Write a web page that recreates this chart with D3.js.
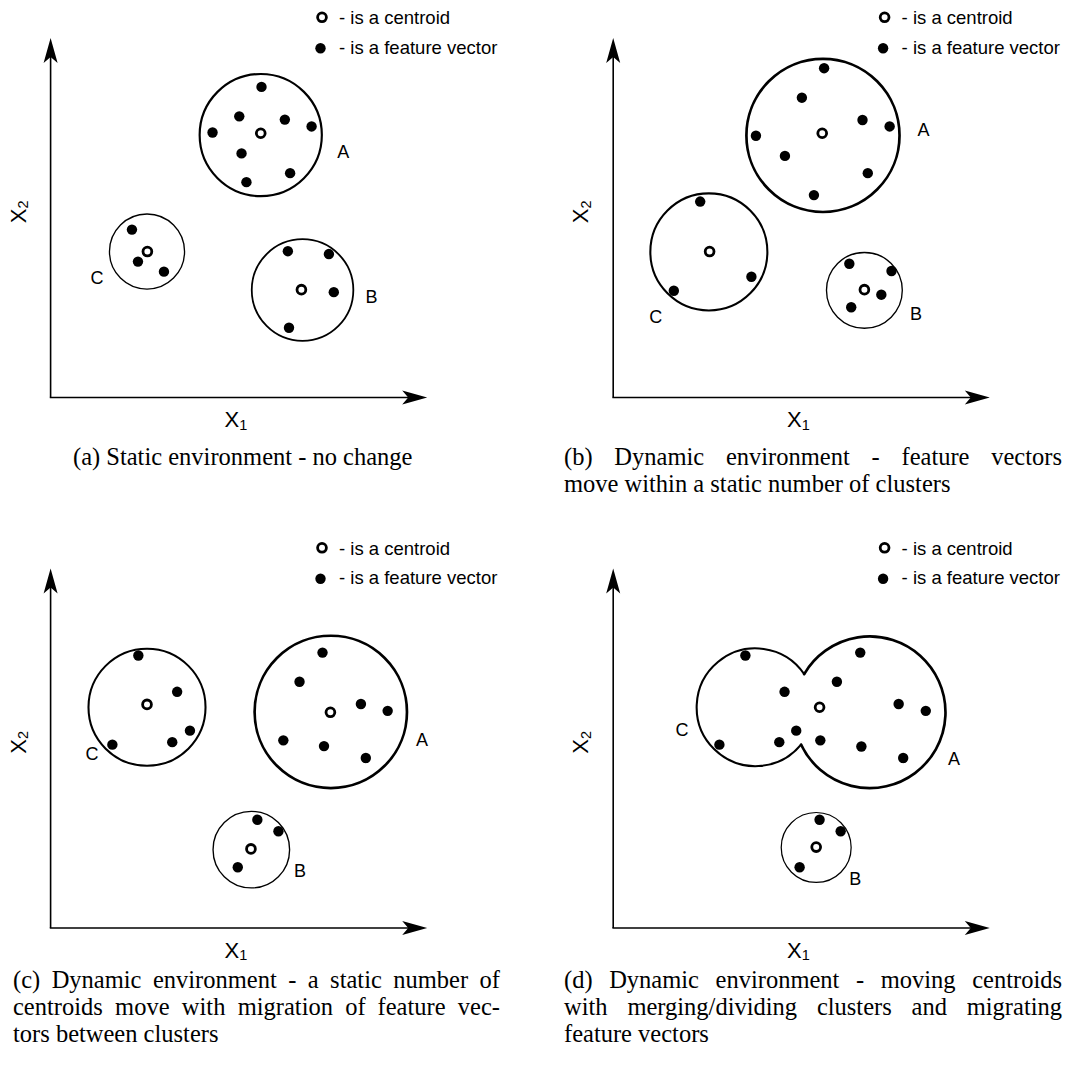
<!DOCTYPE html>
<html>
<head>
<meta charset="utf-8">
<script src="https://cdn.jsdelivr.net/npm/d3@7"></script>
<style>
  body { margin: 0; background: #fff; }
  .sans { font-family: "Liberation Sans", Arial, Helvetica, sans-serif; fill: #000; }
  .cap { font-family: "Liberation Serif", "Times New Roman", serif; font-size: 24.5px; fill: #000; }
</style>
</head>
<body>
<div id="chart"></div>
<script>
// data units: both axes run 0..10

// (a) static environment
var clustersA = [
  { name: "A", cx: 5.58, cy: 7.30, r: 1.66, lx: 7.77, ly: 6.83 },
  { name: "B", cx: 6.69, cy: 2.99, r: 1.38, lx: 8.52, ly: 2.82 },
  { name: "C", cx: 2.56, cy: 4.06, r: 1.02, lx: 1.23, ly: 3.34 }
];
var centroidsA = [[5.58, 7.35], [6.66, 3.00], [2.57, 4.06]];
var vectorsA = [[5.60, 8.64], [5.01, 7.82], [6.22, 7.73], [6.93, 7.54], [4.30, 7.37], [5.07, 6.79],
  [6.36, 6.24], [5.20, 5.99], [6.30, 4.07], [7.39, 3.99], [7.52, 2.93], [6.33, 1.94],
  [2.16, 4.67], [2.32, 3.78], [3.01, 3.50]];

// (b) vectors move inside clusters
var clustersB = [
  { name: "A", cx: 5.57, cy: 7.29, r: 2.08, lx: 8.24, ly: 7.46 },
  { name: "B", cx: 6.67, cy: 2.98, r: 1.03, lx: 8.04, ly: 2.34 },
  { name: "C", cx: 2.54, cy: 4.05, r: 1.59, lx: 1.13, ly: 2.25 }
];
var centroidsB = [[5.55, 7.35], [6.67, 3.00], [2.56, 4.06]];
var vectorsB = [[5.60, 9.16], [5.01, 8.34], [6.62, 7.72], [7.34, 7.54], [3.79, 7.28], [4.56, 6.72],
  [6.76, 6.24], [5.33, 5.63], [6.27, 3.72], [7.39, 3.52], [7.12, 2.86], [6.32, 2.51],
  [2.31, 5.45], [3.67, 3.36], [1.61, 2.97]];

// (c) centroids move, vectors migrate
var clustersC = [
  { name: "A", cx: 7.44, cy: 6.01, r: 2.07, lx: 9.86, ly: 5.24 },
  { name: "B", cx: 5.33, cy: 2.18, r: 1.04, lx: 6.62, ly: 1.60 },
  { name: "C", cx: 2.56, cy: 6.14, r: 1.59, lx: 1.10, ly: 4.85 }
];
var centroidsC = [[7.43, 6.00], [5.32, 2.20], [2.56, 6.22]];
var vectorsC = [[7.22, 7.66], [6.61, 6.85], [8.24, 6.23], [8.95, 6.04], [6.18, 5.22], [7.26, 5.06],
  [8.37, 4.73], [5.49, 3.01], [6.05, 2.69], [4.97, 1.69], [2.33, 7.58], [3.36, 6.57],
  [3.70, 5.49], [3.23, 5.17], [1.64, 5.10]];

// (d) merging clusters
var clustersD = [
  { name: "A", cx: 6.81, cy: 6.00, r: 2.06, lx: 9.05, ly: 4.72, merged: "AC" },
  { name: "B", cx: 5.39, cy: 2.24, r: 0.95, lx: 6.43, ly: 1.37 },
  { name: "C", cx: 3.78, cy: 6.14, r: 1.60, lx: 1.83, ly: 5.51, merged: "AC" }
];
var centroidsD = [[5.48, 6.14], [5.39, 2.25]];
var vectorsD = [[3.51, 7.58], [6.56, 7.66], [5.94, 6.85], [4.55, 6.57], [7.58, 6.23], [8.30, 6.04],
  [4.86, 5.49], [2.82, 5.10], [4.41, 5.17], [5.50, 5.22], [6.59, 5.05], [7.70, 4.73],
  [5.48, 3.01], [6.04, 2.69], [4.95, 1.69]];

var captionA = ["(a) Static environment - no change"];
var captionB = ["(b) Dynamic environment - feature vectors",
  "move within a static number of clusters"];
var captionC = ["(c) Dynamic environment - a static number of",
  "centroids move with migration of feature vec-",
  "tors between clusters"];
var captionD = ["(d) Dynamic environment - moving centroids",
  "with merging/dividing clusters and migrating",
  "feature vectors"];

var legendLabels = ["- is a centroid", "- is a feature vector"];

var panels = [
  { clusters: clustersA, centroids: centroidsA, vectors: vectorsA, caption: captionA, dx: 0, dy: 0, col: [73, 500], capY: 465 },
  { clusters: clustersB, centroids: centroidsB, vectors: vectorsB, caption: captionB, dx: 562.6, dy: 0, col: [564, 1062], capY: 465 },
  { clusters: clustersC, centroids: centroidsC, vectors: vectorsC, caption: captionC, dx: 0, dy: 530.5, col: [13, 500], capY: 988 },
  { clusters: clustersD, centroids: centroidsD, vectors: vectorsD, caption: captionD, dx: 562.6, dy: 530.5, col: [564, 1062], capY: 988 }
];

var width = 1069, height = 1068;
var svg = d3.select("#chart").append("svg")
  .attr("width", width)
  .attr("height", height);

// scales shared by every panel
var x = d3.scaleLinear().domain([0, 10]).range([50.6, 427.2]);
var y = d3.scaleLinear().domain([0, 10]).range([397.5, 38]);
var rpx = function (r) { return r * ((x(1) - x(0)) + (y(0) - y(1))) / 2; };
var strokeW = d3.scaleLinear().domain([1.0, 2.08]).range([1.3, 2.7]);

var arrowHead = "M0,0L-25,-7L-19,0L-25,7Z";

function drawPanel(p) {
  var g = svg.append("g").attr("transform", "translate(" + p.dx + "," + p.dy + ")");

  // axes with arrow heads
  g.append("line")
    .attr("x1", x(0) - 0.8).attr("y1", y(0)).attr("x2", x(10) - 18).attr("y2", y(0))
    .attr("stroke", "#000").attr("stroke-width", 1.6);
  g.append("line")
    .attr("x1", x(0)).attr("y1", y(0)).attr("x2", x(0)).attr("y2", y(10) + 18)
    .attr("stroke", "#000").attr("stroke-width", 1.6);
  g.append("path").attr("d", arrowHead)
    .attr("transform", "translate(" + x(10) + "," + y(0) + ")");
  g.append("path").attr("d", arrowHead)
    .attr("transform", "translate(" + x(0) + "," + y(10) + ") rotate(-90)");

  var xl = g.append("text").attr("class", "sans")
    .attr("x", (x(0) + x(10)) / 2 - 3).attr("y", y(0) + 29.5)
    .attr("text-anchor", "middle");
  xl.append("tspan").attr("font-size", 22).text("X");
  xl.append("tspan").attr("font-size", 14.5).attr("dy", 2.5).text("1");

  var yl = g.append("text").attr("class", "sans")
    .attr("transform", "translate(25.5," + ((y(0) + y(10)) / 2 - 6) + ") rotate(-90)")
    .attr("text-anchor", "middle");
  yl.append("tspan").attr("font-size", 22).text("X");
  yl.append("tspan").attr("font-size", 14.5).attr("dy", 2.5).text("2");

  // legend
  var lg = g.append("g");
  lg.append("circle").attr("cx", 322).attr("cy", 17.3).attr("r", 4.4)
    .attr("fill", "#fff").attr("stroke", "#000").attr("stroke-width", 2.8);
  lg.append("circle").attr("cx", 320.5).attr("cy", 48.3).attr("r", 5.2).attr("fill", "#000");
  lg.selectAll("text.leg").data(legendLabels).enter().append("text")
    .attr("class", "sans leg")
    .attr("x", 339)
    .attr("y", function (d, i) { return i === 0 ? 24.2 : 53.8; })
    .attr("font-size", 18.5)
    .text(function (d) { return d; });

  // plain clusters
  var plain = p.clusters.filter(function (c) { return !c.merged; });
  g.selectAll("circle.cluster").data(plain).enter().append("circle")
    .attr("class", "cluster")
    .attr("cx", function (c) { return x(c.cx); })
    .attr("cy", function (c) { return y(c.cy); })
    .attr("r", function (c) { return rpx(c.r); })
    .attr("fill", "none")
    .attr("stroke", "#000")
    .attr("stroke-width", function (c) { return strokeW(c.r); });

  // merged clusters: outer arcs of each circle
  var merged = p.clusters.filter(function (c) { return c.merged; });
  merged.forEach(function (c) {
    var o = merged.filter(function (m) { return m !== c && m.merged === c.merged; })[0];
    var x1 = x(c.cx), y1 = y(c.cy), r1 = rpx(c.r);
    var x2 = x(o.cx), y2 = y(o.cy), r2 = rpx(o.r);
    var d = Math.hypot(x2 - x1, y2 - y1);
    var th = Math.atan2(y2 - y1, x2 - x1);
    var al = Math.acos((d * d + r1 * r1 - r2 * r2) / (2 * d * r1));
    var path = d3.path();
    path.arc(x1, y1, r1, th + al, th + 2 * Math.PI - al);
    g.append("path").attr("d", path.toString())
      .attr("fill", "none").attr("stroke", "#000")
      .attr("stroke-width", strokeW(c.r))
      .attr("stroke-linecap", "round");
  });

  // cluster labels
  g.selectAll("text.lab").data(p.clusters).enter().append("text")
    .attr("class", "sans lab")
    .attr("x", function (c) { return x(c.lx); })
    .attr("y", function (c) { return y(c.ly); })
    .attr("dy", "0.36em")
    .attr("text-anchor", "middle")
    .attr("font-size", 18)
    .text(function (c) { return c.name; });

  // feature vectors
  g.selectAll("circle.vec").data(p.vectors).enter().append("circle")
    .attr("class", "vec")
    .attr("cx", function (v) { return x(v[0]); })
    .attr("cy", function (v) { return y(v[1]); })
    .attr("r", 5.2)
    .attr("fill", "#000");

  // centroids
  g.selectAll("circle.cen").data(p.centroids).enter().append("circle")
    .attr("class", "cen")
    .attr("cx", function (v) { return x(v[0]); })
    .attr("cy", function (v) { return y(v[1]); })
    .attr("r", 4.4)
    .attr("fill", "#fff")
    .attr("stroke", "#000")
    .attr("stroke-width", 2.8);

  drawCaption(p.caption, p.col[0], p.col[1], p.capY);
}

// justified caption like the LaTeX subfigure text; last line ragged
function drawCaption(lines, x0, x1, y0) {
  var lineH = 27;
  lines.forEach(function (line, i) {
    var t = svg.append("text").attr("class", "cap").attr("y", y0 + i * lineH);
    if (i === lines.length - 1) {
      t.attr("x", x0).text(line);
      return;
    }
    var words = line.split(" ");
    var spans = words.map(function (w) { return t.append("tspan").text(w); });
    var widths = spans.map(function (s) { return s.node().getComputedTextLength(); });
    var gap = (x1 - x0 - d3.sum(widths)) / (words.length - 1);
    var cx = x0;
    spans.forEach(function (s, j) {
      s.attr("x", cx);
      cx += widths[j] + gap;
    });
  });
}

panels.forEach(drawPanel);
</script>
</body>
</html>
